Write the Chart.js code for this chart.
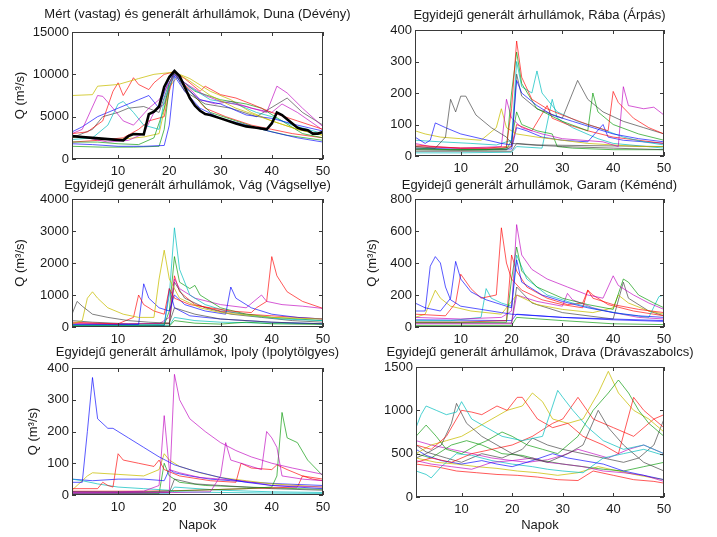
<!DOCTYPE html>
<html>
<head>
<meta charset="utf-8">
<script src="https://cdn.jsdelivr.net/npm/chart.js@4.4.0/dist/chart.umd.min.js"></script>
<style>
  body { margin: 0; background: #fff; width: 717px; height: 537px; position: relative; overflow: hidden; }
  canvas { position: absolute; }
</style>
</head>
<body>
<canvas id="duna"></canvas>
<canvas id="raba"></canvas>
<canvas id="vag"></canvas>
<canvas id="garam"></canvas>
<canvas id="ipoly"></canvas>
<canvas id="drava"></canvas>
<script>
// Napok (x tengely) és a tengelyfeliratok
const xTicks = [10, 20, 30, 40, 50];
const dunaTicks = [0, 5000, 10000, 15000];
const rabaTicks = [0, 100, 200, 300, 400];
const vagTicks = [0, 1000, 2000, 3000, 4000];
const garamTicks = [0, 200, 400, 600, 800];
const ipolyTicks = [0, 100, 200, 300, 400];
const dravaTicks = [0, 500, 1000, 1500];

// Mért árhullám, Duna (Dévény) - vastag fekete vonal
const dunaMeasured = [[1,2700],[3,2600],[5,2500],[8,2350],[11,2200],[12,2700],[13,2950],[15,2900],[16,5300],[17,5600],[18,6200],[19,8500],[20,9700],[21,10400],[22,9800],[23,8500],[24,7200],[25,6300],[26,5700],[27,5300],[28,5200],[30,4800],[33,4200],[35,3850],[37,3700],[39,3500],[40,4200],[41,5500],[42,5200],[43,4700],[44,4200],[45,3700],[46,3500],[47,3400],[48,3000],[49,3000],[50,3200]];

// Generált árhullámok, Duna (Dévény)
const dunaRuns = [
  [[1,7500],[5,7600],[6,8600],[10,8800],[14,9500],[17,10000],[20,10200],[21,10300],[24,9200],[28,7500],[33,6000],[40,4500],[45,3500],[50,2800]],
  [[1,3000],[4,3200],[7,4500],[9,8000],[10,9000],[11,7500],[12,8500],[13,9600],[14,8800],[16,8200],[17,9000],[19,10000],[21,10300],[23,9500],[26,8000],[27,8600],[30,7600],[33,7200],[36,6500],[40,5500],[45,4500],[50,3500]],
  [[1,3000],[3,3500],[6,7500],[7,7400],[9,6000],[11,4500],[13,4000],[16,6000],[18,7000],[20,9000],[21,10000],[23,9000],[27,7500],[30,6800],[35,6200],[39,5500],[41,8600],[43,7800],[46,6000],[50,3800]],
  [[1,3200],[3,3800],[6,5000],[8,5500],[10,6000],[12,6500],[14,7000],[16,7500],[18,6000],[20,9500],[21,10000],[23,8500],[26,7000],[30,6500],[35,5200],[40,4800],[45,4000],[50,3300]],
  [[1,2300],[5,2500],[8,4000],[10,6500],[11,6800],[13,5500],[15,4000],[18,3500],[19,7000],[21,10000],[24,8500],[28,7000],[33,6500],[37,5500],[40,5000],[44,4000],[50,3000]],
  [[1,2000],[6,2000],[10,1800],[14,1700],[17,2500],[19,6000],[20,9000],[21,10200],[22,9500],[25,8000],[30,7000],[35,6500],[38,6000],[42,4500],[46,3000],[50,2500]],
  [[1,2500],[5,3500],[7,5000],[10,5500],[12,6000],[15,6200],[18,5500],[20,9000],[21,10300],[23,8000],[27,6500],[32,6000],[37,5000],[43,7200],[46,5500],[50,4000]],
  [[1,1800],[5,1700],[10,1500],[15,1500],[19,1600],[20,4000],[21,9800],[23,8000],[26,6000],[30,4800],[35,4000],[40,3200],[45,2500],[50,2000]],
  [[1,2800],[4,2500],[8,2000],[12,2200],[15,3000],[17,5500],[19,6500],[21,10300],[23,9000],[26,7000],[29,6500],[32,6800],[36,6000],[40,5500],[42,6500],[45,5500],[50,3400]],
  [[1,1500],[7,1400],[13,1400],[18,1500],[19,3500],[20,8500],[21,10000],[24,8000],[28,5500],[33,4500],[38,3500],[43,2800],[50,2200]],
  [[1,2000],[6,2200],[11,2500],[14,3500],[16,4500],[19,5000],[20,8000],[21,10200],[23,8800],[27,6000],[31,5000],[36,4000],[40,3500],[44,3000],[50,2500]],
  [[1,2600],[5,2400],[10,2300],[15,2600],[18,3000],[20,8500],[22,10000],[24,9500],[28,8000],[32,7000],[36,5500],[40,4500],[45,3500],[50,2800]]
];

// Rába (Árpás)
const rabaRuns = [
  [[1,30],[5,25],[7,60],[8,180],[9,140],[10,190],[11,190],[13,130],[16,90],[19,60],[20,40],[24,35],[30,30],[40,25],[50,20]],
  [[1,60],[3,40],[4,50],[5,105],[7,90],[10,70],[14,55],[18,40],[20,35],[21,240],[22,200],[25,160],[28,130],[32,110],[36,90],[40,70],[45,55],[50,45]],
  [[1,35],[5,30],[10,25],[15,25],[19,30],[20,150],[21,365],[22,250],[24,180],[27,150],[30,130],[35,100],[39,80],[40,205],[41,170],[44,120],[47,90],[50,70]],
  [[1,25],[8,20],[15,20],[19,25],[20,200],[21,330],[22,230],[25,150],[30,110],[35,80],[36,200],[37,140],[40,100],[45,70],[50,50]],
  [[1,50],[6,45],[12,40],[17,35],[20,50],[21,300],[22,220],[24,200],[25,270],[26,200],[29,140],[33,110],[37,90],[42,60],[46,45],[50,35]],
  [[1,20],[10,18],[19,20],[20,30],[21,260],[22,190],[25,150],[30,120],[33,240],[35,180],[38,140],[42,110],[46,90],[50,70]],
  [[1,40],[4,30],[10,25],[18,30],[19,180],[20,120],[22,90],[26,70],[30,55],[38,45],[41,30],[42,220],[43,160],[46,150],[48,155],[50,130]],
  [[1,80],[3,70],[6,60],[10,55],[14,50],[17,90],[18,150],[19,90],[21,70],[25,60],[30,50],[35,40],[40,35],[45,30],[50,30]],
  [[1,20],[10,20],[19,20],[20,50],[21,140],[22,100],[25,80],[28,70],[29,30],[32,25],[40,20],[50,20]],
  [[1,30],[10,25],[18,25],[20,30],[21,100],[24,80],[27,160],[28,120],[31,100],[35,80],[40,60],[45,50],[50,40]],
  [[1,25],[10,22],[20,22],[21,90],[23,80],[26,60],[30,50],[35,45],[38,100],[39,60],[42,50],[50,40]],
  [[1,15],[20,15],[21,40],[25,35],[50,30]],
  [[1,10],[10,10],[20,12],[21,30],[26,25],[28,180],[29,120],[32,90],[37,55],[40,40],[50,25]]
];

// Vág (Vágsellye)
const vagRuns = [
  [[1,400],[2,800],[3,650],[5,400],[8,300],[12,200],[16,150],[20,120],[21,600],[25,400],[30,250],[40,150],[50,100]],
  [[1,100],[3,200],[4,900],[5,1100],[6,900],[8,600],[11,400],[14,300],[17,300],[18,1500],[19,2400],[20,1500],[22,900],[26,600],[30,450],[40,300],[50,250]],
  [[1,150],[6,120],[10,100],[13,300],[14,1000],[15,700],[17,500],[19,400],[20,1200],[21,900],[24,700],[28,600],[32,500],[36,450],[37,600],[39,800],[40,2200],[41,1600],[43,1100],[46,800],[50,580]],
  [[1,80],[8,80],[14,80],[15,1350],[16,900],[18,600],[20,500],[21,1000],[23,700],[27,500],[31,400],[32,1250],[33,900],[36,600],[40,400],[45,300],[50,250]],
  [[1,60],[10,60],[19,80],[20,1000],[21,3100],[22,1800],[24,1000],[27,700],[31,500],[36,350],[42,250],[50,200]],
  [[1,50],[10,50],[19,60],[20,500],[21,2200],[22,1400],[24,1200],[25,1300],[26,1000],[30,600],[35,400],[40,300],[50,200]],
  [[1,120],[10,100],[18,100],[20,300],[21,1500],[22,1200],[25,900],[30,700],[35,600],[38,1000],[39,800],[42,700],[46,650],[50,580]],
  [[1,200],[5,150],[12,100],[20,100],[21,1400],[23,900],[27,600],[32,400],[38,300],[44,200],[50,150]],
  [[1,100],[10,80],[20,120],[21,1600],[22,1100],[25,700],[30,500],[35,400],[40,350],[50,250]],
  [[1,30],[15,30],[19,40],[20,1200],[21,600],[24,350],[30,250],[40,150],[50,100]],
  [[1,20],[20,25],[21,200],[25,120],[30,90],[35,150],[40,100],[50,80]],
  [[1,40],[20,40],[21,300],[25,200],[30,150],[40,120],[50,100]]
];

// Garam (Kéménd)
const garamRuns = [
  [[1,100],[3,100],[4,380],[5,440],[6,400],[7,250],[8,170],[10,130],[14,110],[18,90],[20,80],[25,70],[30,60],[40,50],[50,40]],
  [[1,150],[3,120],[6,100],[8,180],[9,410],[10,300],[12,220],[15,170],[18,140],[20,120],[21,420],[22,280],[26,200],[30,160],[35,120],[40,90],[45,70],[50,60]],
  [[1,80],[7,70],[9,150],[10,330],[12,240],[14,180],[17,200],[18,620],[19,400],[20,300],[22,230],[26,170],[30,140],[34,120],[35,230],[36,180],[40,140],[45,110],[50,90]],
  [[1,60],[10,50],[18,60],[20,100],[21,640],[22,450],[24,360],[27,300],[31,250],[35,200],[38,180],[40,320],[41,260],[44,200],[47,150],[50,110]],
  [[1,30],[10,30],[19,30],[20,300],[21,500],[22,350],[25,250],[30,180],[35,140],[40,110],[42,300],[43,280],[45,200],[48,150],[50,120]],
  [[1,40],[8,40],[14,60],[15,240],[16,180],[18,150],[20,130],[21,450],[23,300],[27,200],[32,150],[37,110],[42,80],[47,60],[49,190],[50,200]],
  [[1,60],[3,80],[5,230],[6,180],[8,130],[12,100],[18,80],[21,200],[25,140],[30,110],[36,90],[40,120],[41,200],[43,150],[47,100],[50,80]],
  [[1,20],[10,20],[20,20],[21,200],[25,160],[30,130],[31,210],[32,170],[36,120],[40,90],[45,60],[50,50]],
  [[1,30],[10,30],[19,40],[20,450],[21,350],[23,250],[27,180],[31,140],[34,150],[35,230],[36,200],[39,140],[44,100],[50,70]],
  [[1,25],[20,25],[21,250],[24,150],[30,90],[40,50],[42,280],[43,180],[47,100],[50,70]],
  [[1,45],[20,40],[21,80],[30,60],[40,45],[50,35]],
  [[1,10],[20,10],[21,60],[30,40],[40,20],[50,15]]
];

// Ipoly (Ipolytölgyes)
const ipolyRuns = [
  [[1,40],[3,40],[4,200],[5,370],[6,240],[8,210],[9,210],[12,180],[15,150],[18,120],[21,95],[25,75],[30,55],[35,40],[40,30],[45,25],[50,20]],
  [[1,10],[10,10],[15,12],[18,30],[19,250],[20,80],[22,70],[26,55],[30,50],[34,45],[40,30],[50,25]],
  [[1,8],[10,8],[20,10],[21,380],[22,300],[24,240],[27,200],[30,165],[33,140],[36,120],[40,100],[44,85],[47,75],[50,65]],
  [[1,5],[15,6],[28,10],[30,60],[31,165],[32,110],[35,95],[38,80],[39,200],[40,180],[41,150],[42,60],[46,50],[50,45]],
  [[1,10],[15,10],[25,15],[35,20],[40,25],[41,60],[42,260],[43,180],[45,165],[47,110],[50,60]],
  [[1,20],[6,20],[7,40],[8,30],[9,25],[10,130],[11,110],[14,100],[17,90],[18,110],[19,80],[22,60],[28,45],[33,40],[34,100],[36,85],[40,80],[41,95],[43,80],[46,60],[50,50]],
  [[1,15],[4,60],[5,70],[10,65],[15,60],[18,80],[19,130],[20,110],[22,90],[26,70],[30,55],[35,45],[40,35],[45,30],[50,25]],
  [[1,50],[3,45],[6,35],[10,25],[15,20],[20,15],[21,10],[30,8],[40,6],[50,5]],
  [[1,50],[5,45],[10,50],[15,50],[19,45],[20,80],[21,70],[24,60],[28,50],[32,45],[36,40],[42,35],[50,30]],
  [[1,12],[15,12],[25,15],[35,20],[45,25],[46,60],[48,50],[50,45]],
  [[1,10],[10,8],[20,8],[21,50],[25,35],[30,30],[35,25],[40,20],[50,15]],
  [[1,5],[10,5],[18,5],[19,100],[20,60],[22,40],[27,30],[35,25],[45,20],[50,18]],
  [[1,3],[20,4],[21,25],[30,15],[40,10],[50,8]]
];

// Dráva (Drávaszabolcs)
const dravaRuns = [
  [[1,800],[2,950],[3,1050],[5,1000],[7,950],[9,980],[10,1100],[12,900],[15,800],[18,700],[22,650],[26,700],[29,1230],[30,1150],[32,1000],[35,800],[38,650],[42,550],[46,600],[50,500]],
  [[1,600],[4,550],[7,700],[9,900],[10,1000],[12,980],[14,950],[17,1050],[19,1000],[21,1150],[22,1150],[25,900],[28,800],[31,850],[34,700],[38,600],[41,500],[44,1150],[46,1000],[48,900],[50,800]],
  [[1,450],[3,500],[6,600],[8,850],[9,1080],[11,850],[14,700],[17,600],[20,500],[23,450],[27,400],[31,500],[34,600],[37,1000],[39,800],[42,600],[46,400],[50,300]],
  [[1,700],[3,830],[5,700],[7,550],[10,500],[13,600],[15,650],[18,750],[20,700],[23,600],[26,550],[29,500],[33,700],[36,1000],[39,1200],[41,1350],[43,1200],[45,1000],[47,850],[50,700]],
  [[1,500],[4,600],[7,650],[10,700],[13,800],[16,900],[19,1000],[22,1050],[24,1200],[26,1100],[28,900],[31,850],[34,900],[37,1200],[39,1450],[41,1200],[44,1000],[47,900],[50,750]],
  [[1,400],[4,450],[8,400],[12,500],[16,550],[20,600],[24,700],[28,850],[30,900],[33,1150],[36,900],[40,800],[44,700],[48,900],[50,950]],
  [[1,550],[3,480],[6,420],[10,380],[14,420],[17,380],[20,350],[24,420],[28,500],[31,450],[34,420],[38,380],[42,300],[46,250],[50,200]],
  [[1,420],[4,380],[8,350],[12,320],[16,400],[20,420],[24,450],[27,400],[30,380],[34,350],[38,300],[42,280],[46,250],[50,180]],
  [[1,300],[3,260],[4,220],[6,350],[9,500],[12,480],[16,420],[20,380],[24,350],[27,320],[30,300],[34,280],[38,450],[42,500],[46,550],[50,480]],
  [[1,600],[3,520],[7,450],[10,400],[14,500],[18,450],[22,550],[24,680],[27,600],[30,550],[34,500],[38,450],[42,400],[45,450],[48,600],[50,900]],
  [[1,380],[5,350],[9,300],[13,280],[17,260],[21,250],[25,230],[29,200],[33,190],[36,300],[40,250],[44,200],[48,180],[50,160]],
  [[1,500],[4,450],[8,600],[11,650],[14,600],[18,500],[22,480],[26,420],[30,380],[34,350],[38,320],[42,300],[46,350],[50,400]],
  [[1,450],[5,400],[9,380],[13,350],[17,330],[21,300],[25,280],[29,250],[33,280],[37,350],[41,300],[45,250],[50,200]],
  [[1,650],[4,600],[8,550],[12,500],[16,450],[20,420],[23,400],[27,430],[30,480],[33,550],[36,500],[39,450],[43,550],[46,600],[50,500]]
];

// MATLAB-szerű színsor
const colorMap = {
  b: 'rgba(0,0,255,0.65)', g: 'rgba(0,150,0,0.65)', r: 'rgba(255,0,0,0.65)',
  c: 'rgba(0,190,190,0.7)', m: 'rgba(190,0,190,0.65)', y: 'rgba(200,190,0,0.75)', k: 'rgba(60,60,60,0.65)'
};
const dunaColors = 'yrmbcgkbmgry';
const rabaColors = 'kbrgckmygrbkc';
const vagColors = 'kyrbcgmkrbgc';
const garamColors = 'bbrmgcymrkbg';
const ipolyColors = 'bmmmgrycbrkgc';
const dravaColors = 'crkgyrbmckrgym';

const FONT = '"Liberation Sans", Arial, Helvetica, sans-serif';
const FS = 13;

// keret, befelé mutató osztások és cím (MATLAB stílus)
const framePlugin = {
  id: 'frame',
  afterDraw(chart, args, opts) {
    const { ctx, chartArea: a, scales: { x, y } } = chart;
    ctx.save();
    ctx.strokeStyle = '#3a3a3a';
    ctx.lineWidth = 1;
    ctx.strokeRect(Math.round(a.left) + 0.5, Math.round(a.top) + 0.5,
      Math.round(a.right - a.left) - 1, Math.round(a.bottom - a.top) - 1);
    ctx.beginPath();
    x.ticks.forEach(t => {
      const px = Math.round(x.getPixelForValue(t.value)) + 0.5;
      ctx.moveTo(px, a.bottom); ctx.lineTo(px, a.bottom - 4);
      ctx.moveTo(px, a.top); ctx.lineTo(px, a.top + 4);
    });
    y.ticks.forEach(t => {
      const py = Math.round(y.getPixelForValue(t.value)) + 0.5;
      ctx.moveTo(a.left, py); ctx.lineTo(a.left + 4, py);
      ctx.moveTo(a.right, py); ctx.lineTo(a.right - 4, py);
    });
    ctx.stroke();
    ctx.fillStyle = '#1a1a1a';
    ctx.font = FS + 'px ' + FONT;
    ctx.textAlign = 'center';
    ctx.textBaseline = 'middle';
    ctx.fillText(opts.text, (a.left + a.right) / 2, opts.y);
    ctx.restore();
  }
};

function makePanel(p) {
  const cv = document.getElementById(p.id);
  cv.width = p.w; cv.height = p.h;
  cv.style.left = p.left + 'px'; cv.style.top = p.top + 'px';
  const [L, T, R, B] = p.plot;
  const yw = L - p.left;
  const xh = p.top + p.h - B;
  const half = FS * 0.6;

  const datasets = p.runs.map((run, i) => ({
    data: run.map(([x, y]) => ({ x, y })),
    borderColor: colorMap[p.colors[i % p.colors.length]],
    borderWidth: 1
  }));
  if (p.measured) {
    datasets.unshift({
      data: p.measured.map(([x, y]) => ({ x, y })),
      borderColor: '#000',
      borderWidth: 2.6
    });
  }

  new Chart(cv, {
    type: 'line',
    data: { datasets },
    options: {
      responsive: false,
      animation: false,
      events: [],
      layout: { padding: { left: 0, top: T - p.top, right: p.left + p.w - R, bottom: 0 } },
      elements: { point: { radius: 0 }, line: { tension: 0 } },
      plugins: {
        legend: { display: false },
        tooltip: { enabled: false },
        frame: { text: p.title, y: p.titleY - p.top }
      },
      scales: {
        x: {
          type: 'linear', min: 1, max: 50,
          grid: { display: false, drawTicks: false },
          border: { display: false },
          afterBuildTicks: s => { s.ticks = xTicks.map(v => ({ value: v })); },
          afterFit: s => { s.height = xh; },
          ticks: { color: '#1a1a1a', font: { family: FONT, size: FS }, padding: 5, maxRotation: 0, callback: v => String(v) },
          title: p.xTitle ? { display: true, text: 'Napok', color: '#1a1a1a', font: { family: FONT, size: FS }, padding: { top: 0, bottom: p.xTitlePad } } : { display: false }
        },
        y: {
          min: 0, max: p.yTicks[p.yTicks.length - 1],
          grid: { display: false, drawTicks: false },
          border: { display: false },
          afterBuildTicks: s => { s.ticks = p.yTicks.map(v => ({ value: v })); },
          afterFit: s => { s.width = yw; },
          ticks: { color: '#1a1a1a', font: { family: FONT, size: FS }, padding: 3, callback: v => String(v) },
          title: p.yTitle ? { display: true, text: 'Q (m³/s)', color: '#1a1a1a', font: { family: FONT, size: FS }, padding: { top: p.yTitleX - p.left - half, bottom: 0 } } : { display: false }
        }
      }
    },
    plugins: [framePlugin]
  });
}

const panels = [
  { id: 'duna', left: 0, top: 0, w: 358, h: 182, plot: [72, 32, 323, 159], titleY: 14,
    title: 'Mért (vastag) és generált árhullámok, Duna (Dévény)', yTicks: dunaTicks,
    runs: dunaRuns, colors: dunaColors, measured: dunaMeasured, yTitle: true, yTitleX: 20 },
  { id: 'raba', left: 358, top: 0, w: 359, h: 182, plot: [415, 30, 664, 156], titleY: 15,
    title: 'Egyidejű generált árhullámok, Rába (Árpás)', yTicks: rabaTicks,
    runs: rabaRuns, colors: rabaColors, yTitle: false },
  { id: 'vag', left: 0, top: 176, w: 358, h: 170, plot: [72, 199, 323, 327], titleY: 185,
    title: 'Egyidejű generált árhullámok, Vág (Vágsellye)', yTicks: vagTicks,
    runs: vagRuns, colors: vagColors, yTitle: true, yTitleX: 20 },
  { id: 'garam', left: 358, top: 176, w: 359, h: 170, plot: [415, 199, 664, 327], titleY: 185,
    title: 'Egyidejű generált árhullámok, Garam (Kéménd)', yTicks: garamTicks,
    runs: garamRuns, colors: garamColors, yTitle: true, yTitleX: 372 },
  { id: 'ipoly', left: 0, top: 343, w: 358, h: 194, plot: [72, 368, 323, 495], titleY: 352,
    title: 'Egyidejű generált árhullámok, Ipoly (Ipolytölgyes)', yTicks: ipolyTicks,
    runs: ipolyRuns, colors: ipolyColors, yTitle: true, yTitleX: 33, xTitle: true, xTitlePad: 4 },
  { id: 'drava', left: 358, top: 343, w: 359, h: 194, plot: [416, 367, 664, 497], titleY: 352,
    title: 'Egyidejű generált árhullámok, Dráva (Drávaszabolcs)', yTicks: dravaTicks,
    runs: dravaRuns, colors: dravaColors, yTitle: false, xTitle: true, xTitlePad: 4 }
];

panels.forEach(makePanel);
</script>
</body>
</html>
